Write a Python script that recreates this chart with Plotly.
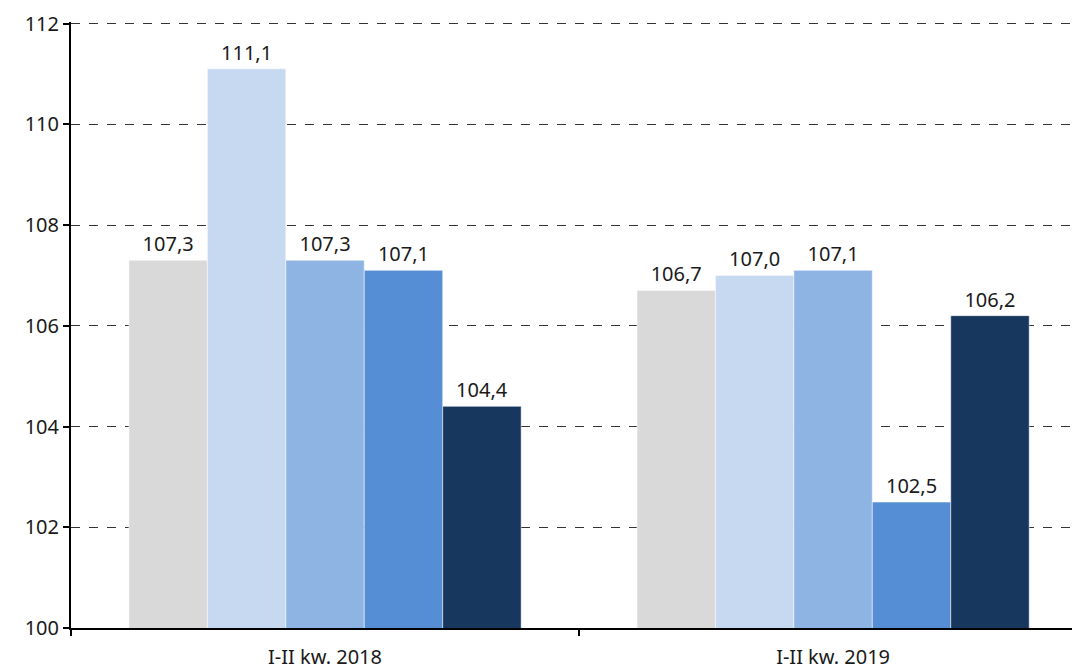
import plotly.graph_objects as go

categories = ["I-II kw. 2018", "I-II kw. 2019"]
series_names = ["Seria 1", "Seria 2", "Seria 3", "Seria 4", "Seria 5"]
values = [
    [107.3, 106.7],
    [111.1, 107.0],
    [107.3, 107.1],
    [107.1, 102.5],
    [104.4, 106.2],
]
colors = ["#D9D9D9", "#C6D9F1", "#8EB4E3", "#558ED5", "#17375E"]

fig = go.Figure()
for name, vals, col in zip(series_names, values, colors):
    fig.add_trace(go.Bar(
        x=categories, y=vals, name=name,
        marker=dict(color=col, line=dict(color="white", width=0.5)),
        texttemplate="%{y:.1f}", textposition="outside",
        textfont=dict(color="#1a1a1a", size=20, family="Noto Sans"),
        cliponaxis=False,
    ))

fig.update_layout(
    width=1080, height=670,
    margin=dict(l=63, r=8, t=14, b=50),
    barmode="group", bargap=0.228, bargroupgap=0,
    plot_bgcolor="white", paper_bgcolor="white",
    showlegend=False,
    separators=", ",
    font=dict(family="Noto Sans", size=20, color="#1a1a1a"),
)
fig.update_yaxes(
    range=[100, 112.03], tickvals=[100, 102, 104, 106, 108, 110, 112],
    automargin=False,
    showgrid=True, gridcolor="#333333", griddash="dash", gridwidth=1,
    showline=True, linecolor="black", linewidth=2,
    ticks="outside", ticklen=6, tickcolor="black", tickwidth=2,
    zeroline=False,
)
fig.update_xaxes(
    range=[-0.5, 1.486], automargin=False,
    showline=True, linecolor="black", linewidth=2,
    ticks="outside", tickson="boundaries", ticklen=6, tickcolor="black", tickwidth=2,
    ticklabelstandoff=10,
)

fig.write_html("out.html")
